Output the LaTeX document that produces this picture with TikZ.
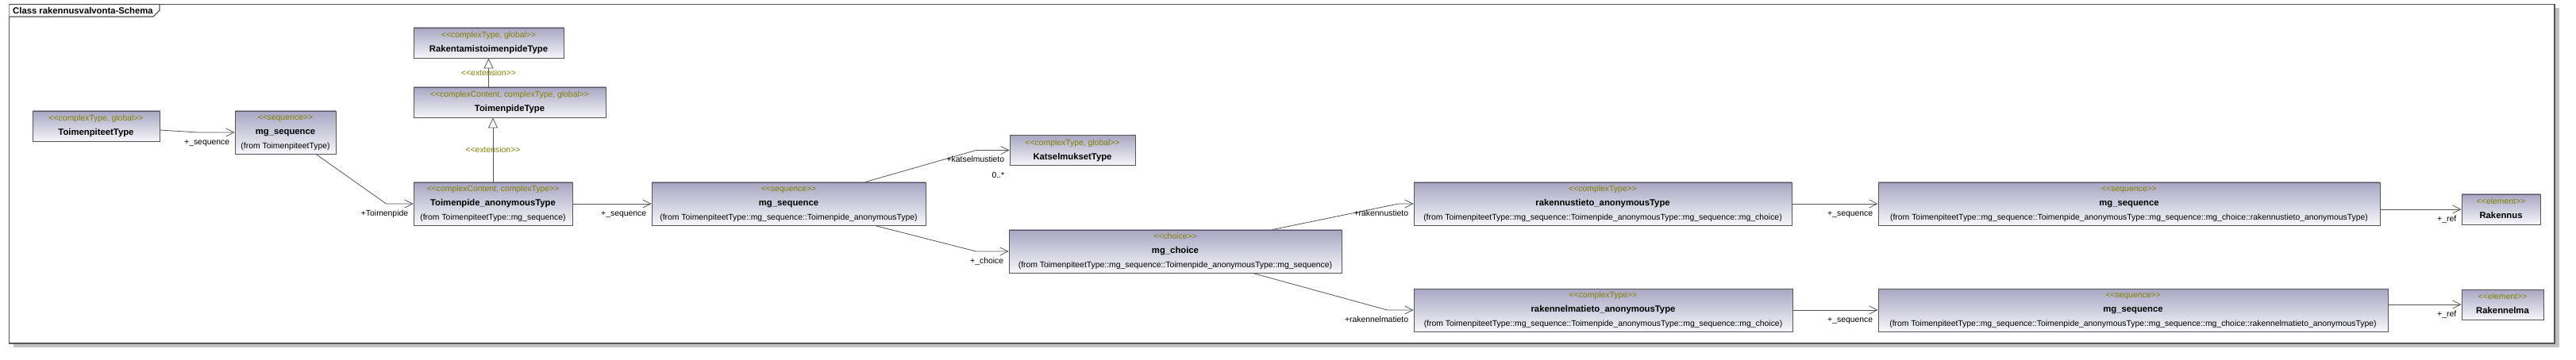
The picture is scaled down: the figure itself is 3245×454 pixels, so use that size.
\documentclass[tikz,border=0pt]{standalone}
\usepackage{fontspec}
\setmainfont{Liberation Sans}
\usetikzlibrary{arrows.meta,calc}

\definecolor{boxtop}{RGB}{168,166,194}
\definecolor{boxbot}{RGB}{246,246,250}
\definecolor{boxline}{RGB}{85,85,85}
\definecolor{stereo}{RGB}{128,128,0}
\definecolor{shadow}{RGB}{192,192,192}

\newcommand{\ustrut}{\rule[-2.6pt]{0pt}{10.8pt}}
\newcommand{\guil}[1]{<\kern0pt<#1>\kern0pt>}
\newcommand{\stype}[1]{\ustrut\textcolor{stereo}{\guil{#1}}}
\newcommand{\cname}[1]{\ustrut{\fontsize{11.3}{18}\selectfont\bfseries #1}}
\newcommand{\fromtxt}[1]{\ustrut(from #1)}

\begin{document}
\begin{tikzpicture}[x=1pt,y=-1pt,
    umlbox/.style={draw=boxline,line width=0.9pt,top color=boxtop,bottom color=boxbot,
      inner sep=0pt,align=center,font=\fontsize{10.4}{18}\selectfont},
    assoc/.style={draw=boxline,line width=0.8pt,-{Straight Barb[length=10pt,width=10pt]}},
    ext/.style={draw=boxline,line width=0.8pt,-{Triangle[open,length=13pt,width=12pt,fill=white]}},
    lbl/.style={font=\fontsize{10.4}{12}\selectfont,inner sep=0pt,text height=7.5pt,
      text depth=2.2pt,anchor=east,xshift=-6pt,yshift=-13pt},
    extlbl/.style={font=\fontsize{10.4}{12}\selectfont,text=stereo,inner sep=0pt}]

  \path[use as bounding box,fill=white] (0,0) rectangle (3245,454);

  % diagram frame
  \fill[shadow] (17,10) rectangle (3224,438);
  \draw[boxline,line width=1.2pt,fill=white] (11.5,5.5) rectangle (3218,433);
  \draw[boxline,line width=1.2pt,fill=white] (11.5,5.5) -- (201,5.5) -- (201,13) -- (193,21) -- (11.5,21);
  \node[anchor=west,inner sep=0pt,font=\fontsize{11.3}{12}\selectfont\bfseries] (ttl) at (16,13) {Class rakennusvalvonta-Schema};

  % classes
  \node[umlbox,minimum width=160pt,minimum height=38pt] (tt) at (121,159)
    {\stype{complexType, global}\\\cname{ToimenpiteetType}};
  \node[umlbox,minimum width=127pt,minimum height=54pt] (seqa) at (359.5,167)
    {\stype{sequence}\\\cname{mg\_sequence}\\\fromtxt{ToimenpiteetType}};
  \node[umlbox,minimum width=189pt,minimum height=38pt] (rtt) at (615.5,54)
    {\stype{complexType, global}\\\cname{RakentamistoimenpideType}};
  \node[umlbox,minimum width=242pt,minimum height=38pt] (tpt) at (642,129)
    {\stype{complexContent, complexType, global}\\\cname{ToimenpideType}};
  \node[umlbox,minimum width=200pt,minimum height=54pt] (tat) at (621,257)
    {\stype{complexContent, complexType}\\\cname{Toimenpide\_anonymousType}\\\fromtxt{ToimenpiteetType::mg\_sequence}};
  \node[umlbox,minimum width=345pt,minimum height=54pt] (seqb) at (993.5,257)
    {\stype{sequence}\\\cname{mg\_sequence}\\\fromtxt{ToimenpiteetType::mg\_sequence::Toimenpide\_anonymousType}};
  \node[umlbox,minimum width=158pt,minimum height=38pt] (kat) at (1351,189.5)
    {\stype{complexType, global}\\\cname{KatselmuksetType}};
  \node[umlbox,minimum width=419pt,minimum height=54pt] (cho) at (1480.5,317)
    {\stype{choice}\\\cname{mg\_choice}\\\fromtxt{ToimenpiteetType::mg\_sequence::Toimenpide\_anonymousType::mg\_sequence}};
  \node[umlbox,minimum width=476pt,minimum height=54pt] (rti) at (2019,257)
    {\stype{complexType}\\\cname{rakennustieto\_anonymousType}\\\fromtxt{ToimenpiteetType::mg\_sequence::Toimenpide\_anonymousType::mg\_sequence::mg\_choice}};
  \node[umlbox,minimum width=477pt,minimum height=54pt] (rmi) at (2019.5,391)
    {\stype{complexType}\\\cname{rakennelmatieto\_anonymousType}\\\fromtxt{ToimenpiteetType::mg\_sequence::Toimenpide\_anonymousType::mg\_sequence::mg\_choice}};
  \node[umlbox,minimum width=632pt,minimum height=54pt] (seqc) at (2682,257)
    {\stype{sequence}\\\cname{mg\_sequence}\\\fromtxt{ToimenpiteetType::mg\_sequence::Toimenpide\_anonymousType::mg\_sequence::mg\_choice::rakennustieto\_anonymousType}};
  \node[umlbox,minimum width=642pt,minimum height=54pt] (seqd) at (2687,391)
    {\stype{sequence}\\\cname{mg\_sequence}\\\fromtxt{ToimenpiteetType::mg\_sequence::Toimenpide\_anonymousType::mg\_sequence::mg\_choice::rakennelmatieto\_anonymousType}};
  \node[umlbox,minimum width=99pt,minimum height=38pt] (rak) at (3150.5,264)
    {\stype{element}\\\cname{Rakennus}};
  \node[umlbox,minimum width=103pt,minimum height=38pt] (rkm) at (3152.5,384)
    {\stype{element}\\\cname{Rakennelma}};

  % generalisations
  \draw[ext] (tpt.north -| rtt.south) -- (rtt.south) node[extlbl,midway] (e1) {\guil{extension}};
  \draw[ext] (tat.north) -- (tat.north |- tpt.south) node[extlbl,midway] (e2) {\guil{extension}};

  % associations
  \draw[assoc] ($(tt.east)+(0,5)$) -- ($(seqa.west)+(-46,0)$) -- (seqa.west) node[lbl] (l1) {+\_sequence};
  \draw[assoc] ($(seqa.south)+(38.5,0)$) -- ($(tat.west)+(-34,0)$) -- (tat.west) node[lbl] (l2) {+Toimenpide};
  \draw[assoc] (tat.east) -- (seqb.west) node[lbl] (l3) {+\_sequence};
  \draw[assoc] ($(seqb.north)+(96.5,0)$) -- ($(kat.west)+(-42,0)$) -- (kat.west)
    node[lbl,yshift=1pt] (l4) {+katselmustieto} node[lbl,yshift=-19pt] (m4) {0..*};
  \draw[assoc] ($(seqb.south)+(108.5,0)$) -- ($(cho.west)+(-41,0)$) -- (cho.west) node[lbl] (l5) {+\_choice};
  \draw[assoc] ($(cho.north)+(122.5,0)$) -- ($(rti.west)+(-19,0)$) -- (rti.west) node[lbl] (l6) {+rakennustieto};
  \draw[assoc] ($(cho.south)+(97.5,0)$) -- ($(rmi.west)+(-33,0)$) -- (rmi.west) node[lbl] (l7) {+rakennelmatieto};
  \draw[assoc] (rti.east) -- (seqc.west) node[lbl] (l8) {+\_sequence};
  \draw[assoc] (rmi.east) -- (seqd.west) node[lbl] (l9) {+\_sequence};
  \draw[assoc] (seqc.east |- rak.west) -- (rak.west) node[lbl] (l10) {+\_ref};
  \draw[assoc] (seqd.east |- rkm.west) -- (rkm.west) node[lbl] (l11) {+\_ref};
\end{tikzpicture}
\end{document}
